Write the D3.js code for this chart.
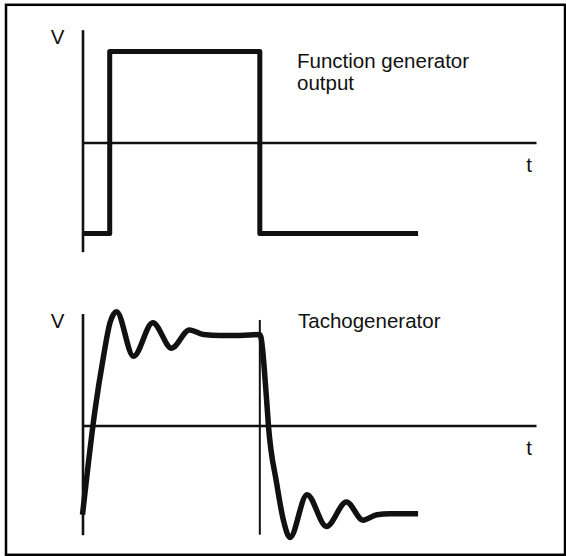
<!DOCTYPE html>
<html>
<head>
<meta charset="utf-8">
<script src="https://cdn.jsdelivr.net/npm/d3@7"></script>
<style>
  body { margin: 0; background: #fff; }
  text { font-family: "Liberation Sans", Arial, sans-serif; fill: #111; }
</style>
</head>
<body>
<svg id="chart"></svg>
<script>
// square wave from the function generator (time, volts)
const genT = [0, 6, 6, 39.1, 39.1, 74];
const genV = [-1, -1, 1, 1, -1, -1];

// tachogenerator response
const tachoT = [0, 2.76, 4.6, 6.06, 7.5, 11.25, 15.5, 19.65, 23.57, 26.7, 30.3, 34.7, 39.1,
                40.6, 41, 42.8, 44.3, 45.75, 49.5, 53.8, 58.2, 61.85, 64.9, 67.8, 74];
const tachoV = [-0.98, 0.17, 0.75, 1.13, 1.25, 0.76, 1.13, 0.85, 1.05, 1.0, 0.99, 0.99, 1.0,
                0.28, 0, -0.63, -1.04, -1.23, -0.76, -1.11, -0.84, -1.04, -0.98, -0.97, -0.97];

const switchT = 39.1;   // thin marker line in the lower plot
const switchV = [1.16, -1.2];

const axisLabels = {y: "V", x: "t"};
const titles = [["Function generator", "output"], ["Tachogenerator"]];

const width = 566;
const height = 556;
const svg = d3.select("#chart").attr("width", width).attr("height", height);

svg.append("rect")
    .attr("x", 6).attr("y", 4.8)
    .attr("width", 559).attr("height", 550)
    .attr("fill", "#fff")
    .attr("stroke", "#000")
    .attr("stroke-width", 2.5);

const x = d3.scaleLinear().domain([0, 100]).range([82.5, 536]);

function panel(zeroY) {
    const y = d3.scaleLinear().domain([-1, 1]).range([zeroY + 91, zeroY - 91]);
    return y;
}

const yTop = panel(142.5);
const yBot = panel(425.5);

function drawAxes(y, top, bottom) {
    const yAx = d3.scaleLinear().domain([bottom, top]).range([y(bottom), y(top)]);
    const g1 = svg.append("g")
        .attr("transform", `translate(${x(0)},0)`)
        .call(d3.axisLeft(yAx).tickValues([]).tickSizeOuter(0));
    const g2 = svg.append("g")
        .attr("transform", `translate(0,${y(0)})`)
        .call(d3.axisBottom(x).tickValues([]).tickSizeOuter(0));
    [g1, g2].forEach(g => g.select(".domain")
        .attr("stroke", "#111")
        .attr("stroke-width", 2.6));

    svg.append("text")
        .attr("x", 57.5).attr("y", y(top) + 14)
        .attr("text-anchor", "middle")
        .style("font-size", "20.5px")
        .text(axisLabels.y);
    svg.append("text")
        .attr("x", 529).attr("y", y(0) + 29.5)
        .attr("text-anchor", "middle")
        .style("font-size", "20.5px")
        .text(axisLabels.x);
}

drawAxes(yTop, 1.24, -1.2);
drawAxes(yBot, 1.23, -1.2);

// marker line at the switching instant
svg.append("line")
    .attr("x1", x(switchT)).attr("x2", x(switchT))
    .attr("y1", yBot(switchV[0])).attr("y2", yBot(switchV[1]))
    .attr("stroke", "#111")
    .attr("stroke-width", 2);

const lineTop = d3.line()
    .x(i => x(genT[i]))
    .y(i => yTop(genV[i]));

svg.append("path")
    .attr("d", lineTop(d3.range(genT.length)))
    .attr("fill", "none")
    .attr("stroke", "#111")
    .attr("stroke-width", 5)
    .attr("stroke-linejoin", "round");

const lineBot = d3.line()
    .x(i => x(tachoT[i]))
    .y(i => yBot(tachoV[i]))
    .curve(d3.curveMonotoneX);

svg.append("path")
    .attr("d", lineBot(d3.range(tachoT.length)))
    .attr("fill", "none")
    .attr("stroke", "#111")
    .attr("stroke-width", 5.5)
    .attr("stroke-linejoin", "round");

// captions
titles[0].forEach((s, i) => {
    svg.append("text")
        .attr("x", 297).attr("y", 68 + i * 22)
        .style("font-size", "20.5px")
        .text(s);
});
svg.append("text")
    .attr("x", 298).attr("y", 328)
    .style("font-size", "20.5px")
    .text(titles[1][0]);
</script>
</body>
</html>
